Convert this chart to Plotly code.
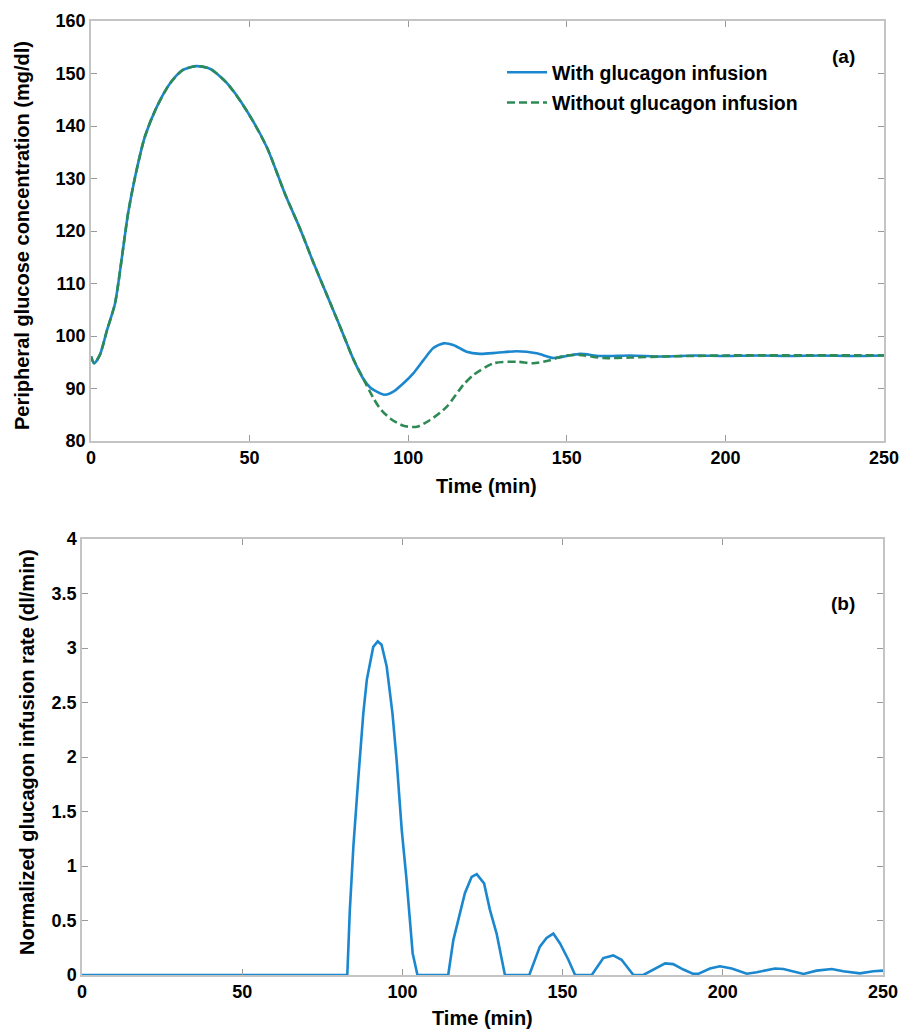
import plotly.graph_objects as go
from plotly.subplots import make_subplots

# ---- data ----
t_with = [0, 1, 2.8, 5, 7.5, 8.6, 10.2, 11.7, 13.9, 17, 20.7, 25, 29, 33.3, 37.5, 42.8, 49,
          55.4, 61.2, 66, 70.1, 74.8, 78.5, 82.7, 85.9, 88, 89.5, 91.1, 92.7, 95.3, 98.5,
          101.6, 104.8, 107.9, 111.1, 114.2, 118.4, 122.6, 127.9, 134.2, 140.5, 145.8, 150,
          154.2, 160.5, 170, 180, 190, 200, 210, 220, 230, 240, 250]
g_with = [96.1, 94.8, 96.4, 101, 106, 110, 117, 123.4, 130.3, 138, 143.6, 148.2, 150.7, 151.4,
          150.9, 148.2, 143, 136, 127, 120.3, 114, 107.2, 101.8, 95.6, 91.8, 90.2, 89.6,
          89.1, 88.8, 89.4, 91, 92.9, 95.4, 97.7, 98.6, 98.3, 97, 96.6, 96.8, 97.1, 96.7, 95.8,
          96.2, 96.6, 96.2, 96.3, 96.1, 96.3, 96.2, 96.3, 96.2, 96.3, 96.2, 96.3]

t_without = [0, 1, 2.8, 5, 7.5, 8.6, 10.2, 11.7, 13.9, 17, 20.7, 25, 29, 33.3, 37.5, 42.8, 49,
             55.4, 61.2, 66, 70.1, 74.8, 78.5, 82.7, 85.9, 89, 91.1, 94.3, 98.5, 102.7,
             106.9, 112.1, 117.4, 120.6, 126.9, 134.2, 139.4, 144.7, 149, 154, 161.5, 170, 180,
             190, 200, 250]
g_without = [96.1, 94.8, 96.4, 101, 106, 110, 117, 123.4, 130.3, 138, 143.6, 148.2, 150.7, 151.4,
             150.9, 148.2, 143, 136, 127, 120.3, 114, 107.2, 101.8, 95.6, 91.8, 88.2,
             86.2, 84.3, 82.9, 82.7, 84, 86.5, 90.7, 92.6, 94.8, 95.1, 94.8, 95.4, 96.2, 96.4,
             95.8, 95.9, 96.1, 96.2, 96.3, 96.3]

t_inf = [0, 82.8, 83.6, 84.7, 86.2, 87.8, 88.9, 90.9, 92.3, 93.5, 95.1, 96.9, 98.2, 99.8, 101.3,
         103.2, 104.7, 114.3, 115.9, 117.5, 119.5, 121.6, 123.2, 125.5, 127.3, 129.4, 132,
         139.6, 142.9, 145, 147.1, 149.2, 151.8, 153.9, 159.1, 162.7, 165.8, 168.4, 172.1,
         175.2, 179.3, 182, 184.5, 187.7, 190.8, 192.3, 196, 199.1, 202.8, 207.5, 210.6,
         216.3, 218.9, 223.1, 225.2, 229.3, 234, 237.6, 242.8, 247, 250]
r_inf = [0, 0, 0.6, 1.18, 1.79, 2.4, 2.71, 3.01, 3.06, 3.03, 2.83, 2.4, 1.97, 1.33, 0.87,
         0.2, 0, 0, 0.32, 0.5, 0.75, 0.9, 0.925, 0.84, 0.6, 0.38, 0,
         0, 0.26, 0.34, 0.38, 0.29, 0.14, 0, 0, 0.155, 0.18, 0.14, 0,
         0, 0.06, 0.107, 0.1, 0.05, 0.01, 0.01, 0.06, 0.08, 0.06, 0.012, 0.025,
         0.06, 0.055, 0.025, 0.01, 0.04, 0.055, 0.035, 0.015, 0.035, 0.04]

x_ticks = [0, 50, 100, 150, 200, 250]
y1_ticks = [80, 90, 100, 110, 120, 130, 140, 150, 160]
y2_ticks = [0, 0.5, 1, 1.5, 2, 2.5, 3, 3.5, 4]
y2_ticklabels = ["0", "0.5", "1", "1.5", "2", "2.5", "3", "3.5", "4"]

BLUE = "#1b87cf"
GREEN = "#2e8a55"
W, H = 903, 1030
FONT = "Liberation Sans"

fig = make_subplots(rows=2, cols=1)

fig.add_trace(go.Scatter(x=t_with, y=g_with, mode="lines", name="With glucagon infusion",
                         legendgroup="a", line=dict(color=BLUE, width=2.6, shape="spline",
                                                    smoothing=0.7)), row=1, col=1)
fig.add_trace(go.Scatter(x=t_without, y=g_without, mode="lines", name="Without glucagon infusion",
                         legendgroup="b", line=dict(color=GREEN, width=2.6, dash="8px,4px",
                                                    shape="spline", smoothing=0.7)), row=1, col=1)
fig.add_trace(go.Scatter(x=t_inf, y=r_inf, mode="lines", showlegend=False,
                         line=dict(color=BLUE, width=2.6)), row=2, col=1)

tickfont = dict(family=FONT, size=18, color="black", weight="bold")
axcommon = dict(showline=True, linecolor="#c4c4c4", linewidth=1.5, mirror="ticks",
                ticks="inside", ticklen=6, tickcolor="#9a9a9a", tickwidth=1,
                showgrid=False, zeroline=False, tickfont=tickfont, automargin=False)

fig.update_layout(
    width=W, height=H, margin=dict(l=0, r=0, t=0, b=0),
    plot_bgcolor="white", paper_bgcolor="white",
    xaxis=dict(domain=[91 / W, 884 / W], range=[0, 250], tickvals=x_ticks, **axcommon),
    yaxis=dict(domain=[1 - 441 / H, 1 - 21 / H], range=[80, 160], tickvals=y1_ticks, **axcommon),
    xaxis2=dict(domain=[82 / W, 883 / W], range=[0, 250], tickvals=x_ticks, **axcommon),
    yaxis2=dict(domain=[1 - 975 / H, 1 - 539 / H], range=[0, 4], tickvals=y2_ticks,
                ticktext=y2_ticklabels, **axcommon),
    legend=dict(x=502 / W, y=1 - 53 / H, xanchor="left", yanchor="top",
                font=dict(family=FONT, size=19.5, color="black", weight="bold"),
                bgcolor="rgba(0,0,0,0)", tracegroupgap=2, itemwidth=40),
    showlegend=True,
)

def ann(text, x, y, angle=0, size=20):
    fig.add_annotation(text=text, xref="paper", yref="paper", x=x / W, y=1 - y / H,
                       showarrow=False, textangle=angle, xanchor="center", yanchor="middle",
                       font=dict(family=FONT, size=size, color="black", weight="bold"))

ann("Peripheral glucose concentration (mg/dl)", 22, 236, angle=-90)
ann("Normalized glucagon infusion rate (dl/min)", 27, 752, angle=-90)
ann("Time (min)", 486, 486)
ann("Time (min)", 482, 1018)
ann("(a)", 843, 57, size=19)
ann("(b)", 843, 603, size=19)

fig.write_html("out.html")
